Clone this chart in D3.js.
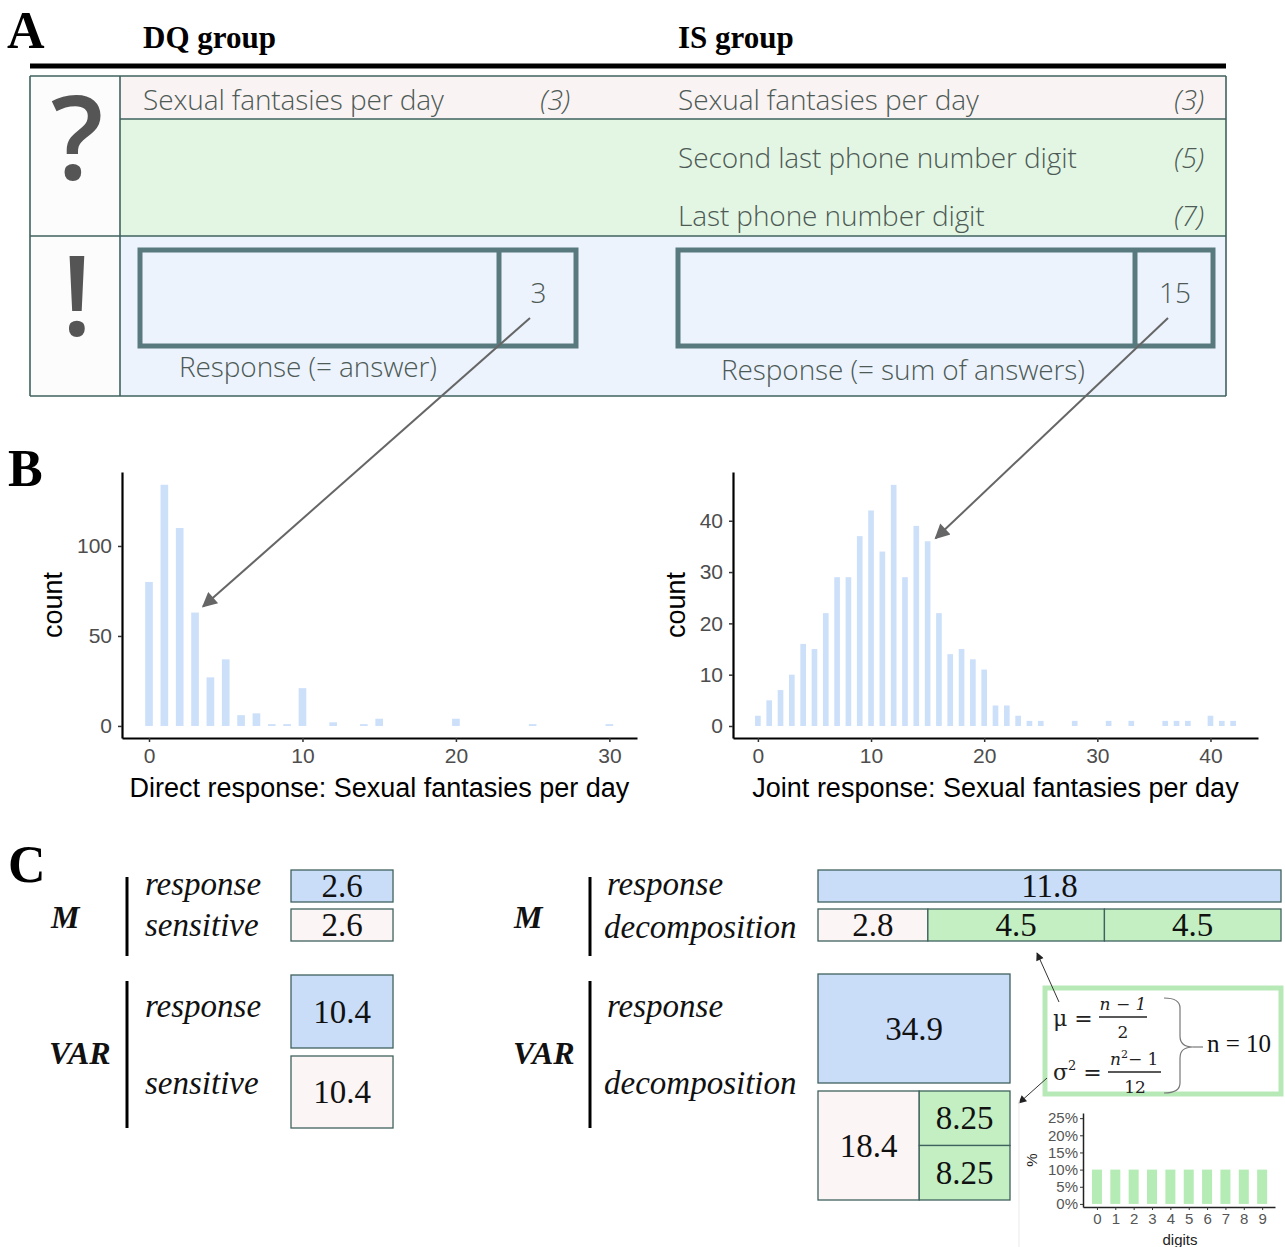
<!DOCTYPE html>
<html>
<head>
<meta charset="utf-8">
<script src="https://cdn.jsdelivr.net/npm/d3@7"></script>
<style>
  body { margin: 0; background: #fff; }
  svg { display: block; }
</style>
</head>
<body>
<svg id="fig" width="1285" height="1247"></svg>
<script>
// ---------- data ----------
// Direct questioning: reported sexual fantasies per day
const directValues = [0, 1, 2, 3, 4, 5, 6, 7, 8, 9, 10, 12, 14, 15, 20, 25, 30];
const directCounts = [80, 134, 110, 63, 27, 37, 6, 7, 1, 1, 21, 2, 1, 4, 4, 1, 1];
const directTicksX = [0, 10, 20, 30];
const directTicksY = [0, 50, 100];

// Indirect (summed) responses: fantasies + two phone digits
const jointValues = [0, 1, 2, 3, 4, 5, 6, 7, 8, 9, 10, 11, 12, 13, 14, 15, 16, 17, 18, 19, 20,
                     21, 22, 23, 24, 25, 28, 31, 33, 36, 37, 38, 40, 41, 42];
const jointCounts = [2, 5, 7, 10, 16, 15, 22, 29, 29, 37, 42, 34, 47, 29, 39, 36, 22, 14, 15, 13, 11,
                     4, 4, 2, 1, 1, 1, 1, 1, 1, 1, 1, 2, 1, 1];
const jointTicksX = [0, 10, 20, 30, 40];
const jointTicksY = [0, 10, 20, 30, 40];

// Uniform distribution of phone number digits
const digitLabels = [0, 1, 2, 3, 4, 5, 6, 7, 8, 9];
const digitShares = [10, 10, 10, 10, 10, 10, 10, 10, 10, 10];
const shareTicks = [0, 5, 10, 15, 20, 25];

// Questionnaire items
const dqItems = ["Sexual fantasies per day"];
const dqAnswers = ["(3)"];
const isItems = ["Sexual fantasies per day", "Second last phone number digit", "Last phone number digit"];
const isAnswers = ["(3)", "(5)", "(7)"];
const dqResponse = 3;
const isResponse = 15;

// Summary statistics
const dqMeans = [2.6, 2.6];          // response, sensitive
const dqVars = [10.4, 10.4];         // response, sensitive
const isMeanResponse = 11.8;
const isMeanParts = [2.8, 4.5, 4.5]; // sensitive, digit, digit
const isVarResponse = 34.9;
const isVarParts = [18.4, 8.25, 8.25];

// ---------- styling ----------
const BLUE = "#c9ddf9", PINK = "#fbf5f5", GREEN = "#c3efc3";
const BORDER = "#3f625e";
const BAR = "#cde0fa";
const SANS_A = "'Open Sans', 'Lato', sans-serif";
const SERIF = "'Liberation Serif', 'Times New Roman', serif";
const ARIAL = "'Liberation Sans', Arial, sans-serif";

const svg = d3.select("#fig");
svg.append("rect").attr("width", 1285).attr("height", 1247).attr("fill", "#fff");

const defs = svg.append("defs");
defs.append("marker").attr("id", "bigArrow")
  .attr("viewBox", "0 0 10 10").attr("refX", 9).attr("refY", 5)
  .attr("markerWidth", 9).attr("markerHeight", 7.5).attr("markerUnits", "strokeWidth")
  .attr("orient", "auto")
  .append("path").attr("d", "M0,0 L10,5 L0,10 Z").attr("fill", "#666");
defs.append("marker").attr("id", "smallArrow")
  .attr("viewBox", "0 0 10 10").attr("refX", 9).attr("refY", 5)
  .attr("markerWidth", 10).attr("markerHeight", 8).attr("markerUnits", "strokeWidth")
  .attr("orient", "auto")
  .append("path").attr("d", "M0,0 L10,5 L0,10 Z").attr("fill", "#222");

// ---------- panel labels ----------
const panelLabel = (t, x, y) => svg.append("text").text(t)
  .attr("x", x).attr("y", y).attr("font-family", SERIF).attr("font-weight", "bold")
  .attr("font-size", 52).attr("fill", "#000");
panelLabel("A", 7, 48);
panelLabel("B", 8, 486);
panelLabel("C", 8, 882);

// ---------- panel A: questionnaire ----------
const gA = svg.append("g");
gA.append("text").text("DQ group").attr("x", 143).attr("y", 48)
  .attr("font-family", SERIF).attr("font-weight", "bold").attr("font-size", 31);
gA.append("text").text("IS group").attr("x", 678).attr("y", 48)
  .attr("font-family", SERIF).attr("font-weight", "bold").attr("font-size", 31);
gA.append("line").attr("x1", 30).attr("x2", 1226).attr("y1", 66).attr("y2", 66)
  .attr("stroke", "#000").attr("stroke-width", 5);

const tbl = { x0: 30, x1: 1226, xc: 120, y0: 76, y1: 119, y2: 236, y3: 396 };
gA.append("rect").attr("x", tbl.x0).attr("y", tbl.y0).attr("width", tbl.xc - tbl.x0).attr("height", tbl.y3 - tbl.y0).attr("fill", "#fcfcfc");
gA.append("rect").attr("x", tbl.xc).attr("y", tbl.y0).attr("width", tbl.x1 - tbl.xc).attr("height", tbl.y1 - tbl.y0).attr("fill", "#faf3f3");
gA.append("rect").attr("x", tbl.xc).attr("y", tbl.y1).attr("width", tbl.x1 - tbl.xc).attr("height", tbl.y2 - tbl.y1).attr("fill", "#e3f6e3");
gA.append("rect").attr("x", tbl.xc).attr("y", tbl.y2).attr("width", tbl.x1 - tbl.xc).attr("height", tbl.y3 - tbl.y2).attr("fill", "#ecf3fd");
// grid lines
[[tbl.x0, tbl.y0, tbl.x1, tbl.y0], [tbl.x0, tbl.y3, tbl.x1, tbl.y3], [tbl.x0, tbl.y0, tbl.x0, tbl.y3],
 [tbl.x1, tbl.y0, tbl.x1, tbl.y3], [tbl.xc, tbl.y0, tbl.xc, tbl.y3], [tbl.xc, tbl.y1, tbl.x1, tbl.y1],
 [tbl.x0, tbl.y2, tbl.x1, tbl.y2]].forEach(([a, b, c, d]) =>
  gA.append("line").attr("x1", a).attr("y1", b).attr("x2", c).attr("y2", d)
    .attr("stroke", BORDER).attr("stroke-width", 1.6));

gA.append("text").text("?").attr("x", 77).attr("y", 179).attr("text-anchor", "middle")
  .attr("font-family", SANS_A).attr("font-weight", 600).attr("font-size", 116).attr("fill", "#555");
gA.append("text").text("!").attr("x", 77).attr("y", 336).attr("text-anchor", "middle")
  .attr("font-family", SANS_A).attr("font-weight", 600).attr("font-size", 110).attr("fill", "#555");

const itemStyle = sel => sel.attr("font-family", SANS_A).attr("font-weight", 300)
  .attr("font-size", 28).attr("fill", "#4d5a56").attr("letter-spacing", -0.1);
const itemRows = [110, 168, 226];
dqItems.forEach((t, i) => {
  itemStyle(gA.append("text").text(t).attr("x", 143).attr("y", itemRows[i]));
  itemStyle(gA.append("text").text(dqAnswers[i]).attr("x", 570).attr("y", itemRows[i])
    .attr("text-anchor", "end").attr("font-style", "italic"));
});
isItems.forEach((t, i) => {
  itemStyle(gA.append("text").text(t).attr("x", 678).attr("y", itemRows[i]));
  itemStyle(gA.append("text").text(isAnswers[i]).attr("x", 1204).attr("y", itemRows[i])
    .attr("text-anchor", "end").attr("font-style", "italic"));
});

// response fields
const fieldBox = (x0, xd, x1, value, caption, capX, capY) => {
  gA.append("rect").attr("x", x0).attr("y", 250).attr("width", x1 - x0).attr("height", 96)
    .attr("fill", "none").attr("stroke", "#587a7e").attr("stroke-width", 5);
  gA.append("line").attr("x1", xd).attr("x2", xd).attr("y1", 250).attr("y2", 346)
    .attr("stroke", "#587a7e").attr("stroke-width", 5);
  itemStyle(gA.append("text").text(value).attr("x", (xd + x1) / 2 + 1).attr("y", 303)
    .attr("text-anchor", "middle").attr("font-size", 24));
  itemStyle(gA.append("text").text(caption).attr("x", capX).attr("y", capY));
};
fieldBox(140, 499, 576, dqResponse, "Response (= answer)", 179, 377);
fieldBox(678, 1135, 1213, isResponse, "Response (= sum of answers)", 721, 380);

// ---------- panel B: histograms ----------
function histogram(opts) {
  const g = svg.append("g");
  const x = d3.scaleLinear().domain(opts.xDom).range([opts.left, opts.right]);
  const y = d3.scaleLinear().domain(opts.yDom).range([opts.bottom, opts.top]);
  const bw = x(opts.barWidth) - x(0);
  g.selectAll("rect.bar").data(opts.values).join("rect").attr("class", "bar")
    .attr("x", (d) => x(d) - bw / 2)
    .attr("y", (d, i) => y(opts.counts[i]))
    .attr("width", bw)
    .attr("height", (d, i) => y(0) - y(opts.counts[i]))
    .attr("fill", BAR);

  const ax = g.append("g").attr("transform", `translate(0,${opts.bottom})`)
    .call(d3.axisBottom(x).tickValues(opts.ticksX).tickSize(4).tickSizeOuter(0).tickPadding(6));
  const ay = g.append("g").attr("transform", `translate(${opts.left},0)`)
    .call(d3.axisLeft(y).tickValues(opts.ticksY).tickSize(4).tickSizeOuter(0).tickPadding(6));
  [ax, ay].forEach(a => {
    a.select(".domain").attr("stroke", "#000").attr("stroke-width", 2.2);
    a.selectAll(".tick line").attr("stroke", "#333").attr("stroke-width", 1.5);
    a.selectAll(".tick text").attr("font-family", ARIAL).attr("font-size", 21).attr("fill", "#4d4d4d");
  });
  g.append("text").text(opts.title).attr("x", (opts.left + opts.right) / 2).attr("y", 797)
    .attr("text-anchor", "middle").attr("font-family", ARIAL).attr("font-size", 27).attr("fill", "#000");
  g.append("text").text("count")
    .attr("transform", `translate(${opts.countX},${(opts.top + opts.bottom) / 2}) rotate(-90)`)
    .attr("text-anchor", "middle").attr("font-family", ARIAL).attr("font-size", 27).attr("fill", "#000");
  return { x, y };
}

const left = histogram({
  values: directValues, counts: directCounts, ticksX: directTicksX, ticksY: directTicksY,
  xDom: [-1.76, 31.8], yDom: [-6.7, 141.1], left: 122, right: 637, top: 472, bottom: 738,
  barWidth: 0.5, title: "Direct response: Sexual fantasies per day", countX: 62
});
const right = histogram({
  values: jointValues, counts: jointCounts, ticksX: jointTicksX, ticksY: jointTicksY,
  xDom: [-2.2, 44.2], yDom: [-2.34, 49.5], left: 733, right: 1258, top: 472, bottom: 738,
  barWidth: 0.5, title: "Joint response: Sexual fantasies per day", countX: 685
});

// arrows linking the responses to their histogram bars
const bigArrow = (x1, y1, x2, y2) => svg.append("line")
  .attr("x1", x1).attr("y1", y1).attr("x2", x2).attr("y2", y2)
  .attr("stroke", "#666").attr("stroke-width", 2).attr("marker-end", "url(#bigArrow)");
bigArrow(530, 318, left.x(dqResponse) + 8, left.y(directCounts[directValues.indexOf(dqResponse)]) - 6);
bigArrow(1168, 318, right.x(isResponse) + 8, right.y(jointCounts[jointValues.indexOf(isResponse)]) - 3);

// ---------- panel C: summary statistics ----------
const gC = svg.append("g");
const meanW = d3.scaleLinear().domain([0, isMeanResponse]).range([0, 463]);

const serifText = (t, x, y, size, opts = {}) => gC.append("text").text(t)
  .attr("x", x).attr("y", y).attr("font-family", SERIF).attr("font-size", size)
  .attr("font-style", opts.italic ? "italic" : "normal")
  .attr("font-weight", opts.bold ? "bold" : "normal")
  .attr("text-anchor", opts.anchor || "start").attr("fill", "#111");

const box = (x, y, w, h, fill, value, size) => {
  gC.append("rect").attr("x", x).attr("y", y).attr("width", w).attr("height", h)
    .attr("fill", fill).attr("stroke", BORDER).attr("stroke-width", 1.3);
  serifText(value, x + w / 2, y + h / 2 + size * 0.34, size, { anchor: "middle" });
};

const bracket = (x, y0, y1) => gC.append("line").attr("x1", x).attr("x2", x).attr("y1", y0).attr("y2", y1)
  .attr("stroke", "#000").attr("stroke-width", 3);

const CS = 33;
// left block (DQ)
serifText("M", 51, 928, 32, { italic: true, bold: true });
bracket(127, 877, 956);
serifText("response", 145, 895, CS, { italic: true });
serifText("sensitive", 145, 936, CS, { italic: true });
box(291, 870, meanW(dqMeans[0]), 32, BLUE, dqMeans[0], CS);
box(291, 909, meanW(dqMeans[1]), 32, PINK, dqMeans[1], CS);

serifText("VAR", 49, 1064, 32, { italic: true, bold: true });
bracket(127, 981, 1128);
serifText("response", 145, 1017, CS, { italic: true });
serifText("sensitive", 145, 1094, CS, { italic: true });
box(291, 975, meanW(dqMeans[0]), 73, BLUE, dqVars[0], CS);
box(291, 1056, meanW(dqMeans[1]), 72, PINK, dqVars[1], CS);

// right block (IS)
serifText("M", 514, 928, 32, { italic: true, bold: true });
bracket(590, 877, 956);
serifText("response", 607, 895, CS, { italic: true });
serifText("decomposition", 604, 938, CS, { italic: true });
box(818, 870, meanW(isMeanResponse), 32, BLUE, isMeanResponse, CS);
let cx = 818;
isMeanParts.forEach((v, i) => {
  box(cx, 909, meanW(v), 32, i === 0 ? PINK : GREEN, v, CS);
  cx += meanW(v);
});

serifText("VAR", 513, 1064, 32, { italic: true, bold: true });
bracket(590, 981, 1128);
serifText("response", 607, 1017, CS, { italic: true });
serifText("decomposition", 604, 1094, CS, { italic: true });
const varW = 192, varH = 109;
box(818, 974, varW, varH, BLUE, isVarResponse, CS);
const varTop = 1091;
const sensW = varW * isVarParts[0] / isVarResponse;
box(818, varTop, sensW, varH, PINK, isVarParts[0], CS);
const digitTotal = isVarParts[1] + isVarParts[2];
let cy = varTop;
isVarParts.slice(1).forEach(v => {
  const h = varH * v / digitTotal;
  box(818 + sensW, cy, varW - sensW, h, GREEN, v, CS);
  cy += h;
});

// formula box for the discrete uniform digit distribution
gC.append("rect").attr("x", 1045).attr("y", 988).attr("width", 236).attr("height", 106)
  .attr("fill", "#fff").attr("stroke", "#b7e9b7").attr("stroke-width", 5);
const MATH = "'DejaVu Serif', 'Liberation Serif', serif";
const mathT = (t, x, y, size, italic, anchor) => gC.append("text").text(t)
  .attr("x", x).attr("y", y).attr("font-family", MATH).attr("font-size", size)
  .attr("font-style", italic ? "italic" : "normal").attr("text-anchor", anchor || "start").attr("fill", "#222");
mathT("μ =", 1053, 1026, 22, false);
mathT("n − 1", 1123, 1010, 17, false, "middle").attr("font-style", "italic");
gC.append("line").attr("x1", 1099).attr("x2", 1147).attr("y1", 1017).attr("y2", 1017).attr("stroke", "#222").attr("stroke-width", 1.4);
mathT("2", 1123, 1038, 17, false, "middle");
const sig = mathT("σ", 1053, 1080, 22, false);
sig.append("tspan").text("2").attr("font-size", 13).attr("dy", -10);
sig.append("tspan").text(" =").attr("dy", 10);
const num2 = mathT("n", 1110, 1065, 17, true);
num2.append("tspan").text("2").attr("font-size", 11).attr("dy", -7).attr("font-style", "normal");
num2.append("tspan").text("− 1").attr("dy", 7).attr("font-style", "normal");
gC.append("line").attr("x1", 1108).attr("x2", 1161).attr("y1", 1072).attr("y2", 1072).attr("stroke", "#222").attr("stroke-width", 1.4);
mathT("12", 1135, 1093, 17, false, "middle");
// curly brace joining both formulas
gC.append("path")
  .attr("d", "M1164,998 Q1180,998 1180,1008 L1180,1036 Q1180,1047 1193,1047 Q1180,1047 1180,1058 L1180,1083 Q1180,1093 1164,1093")
  .attr("fill", "none").attr("stroke", "#777").attr("stroke-width", 1.2);
gC.append("line").attr("x1", 1193).attr("x2", 1203).attr("y1", 1047).attr("y2", 1047)
  .attr("stroke", "#777").attr("stroke-width", 1.2);
gC.append("text").text("n = 10").attr("x", 1207).attr("y", 1052)
  .attr("font-family", SERIF).attr("font-size", 25).attr("fill", "#111");

// pointers from the formulas to the decomposition cells
const smallArrow = (x1, y1, x2, y2) => gC.append("line")
  .attr("x1", x1).attr("y1", y1).attr("x2", x2).attr("y2", y2)
  .attr("stroke", "#333").attr("stroke-width", 1).attr("marker-end", "url(#smallArrow)");
smallArrow(1059, 1002, 1037, 953);
smallArrow(1047, 1078, 1019, 1103);

// ---------- inset: digit distribution ----------
const gI = svg.append("g");
gI.append("line").attr("x1", 1019).attr("x2", 1019).attr("y1", 1100).attr("y2", 1247)
  .attr("stroke", "#eeeeee").attr("stroke-width", 1.2);
const ix = d3.scaleLinear().domain([-0.76, 9.7]).range([1083, 1275]);
const iy = d3.scaleLinear().domain([-0.9, 26.5]).range([1207, 1113]);
const ibw = 10;
gI.selectAll("rect").data(digitLabels).join("rect")
  .attr("x", d => ix(d) - ibw / 2).attr("width", ibw)
  .attr("y", (d, i) => iy(digitShares[i])).attr("height", (d, i) => iy(0) - iy(digitShares[i]))
  .attr("fill", "#b5ecb5");
const iax = gI.append("g").attr("transform", "translate(0,1207)")
  .call(d3.axisBottom(ix).tickValues(digitLabels).tickSize(3).tickSizeOuter(0).tickPadding(3));
const iay = gI.append("g").attr("transform", "translate(1083,0)")
  .call(d3.axisLeft(iy).tickValues(shareTicks).tickFormat(d => d + "%").tickSize(3).tickSizeOuter(0).tickPadding(2));
[iax, iay].forEach(a => {
  a.select(".domain").attr("stroke", "#222").attr("stroke-width", 1.5);
  a.selectAll(".tick line").attr("stroke", "#333");
  a.selectAll(".tick text").attr("font-family", ARIAL).attr("font-size", 15).attr("fill", "#555");
});
gI.append("text").text("digits").attr("x", 1180).attr("y", 1245).attr("text-anchor", "middle")
  .attr("font-family", ARIAL).attr("font-size", 15).attr("fill", "#222");
gI.append("text").text("%").attr("transform", "translate(1037,1160) rotate(-90)")
  .attr("text-anchor", "middle").attr("font-family", ARIAL).attr("font-size", 15).attr("fill", "#222");
</script>
</body>
</html>
